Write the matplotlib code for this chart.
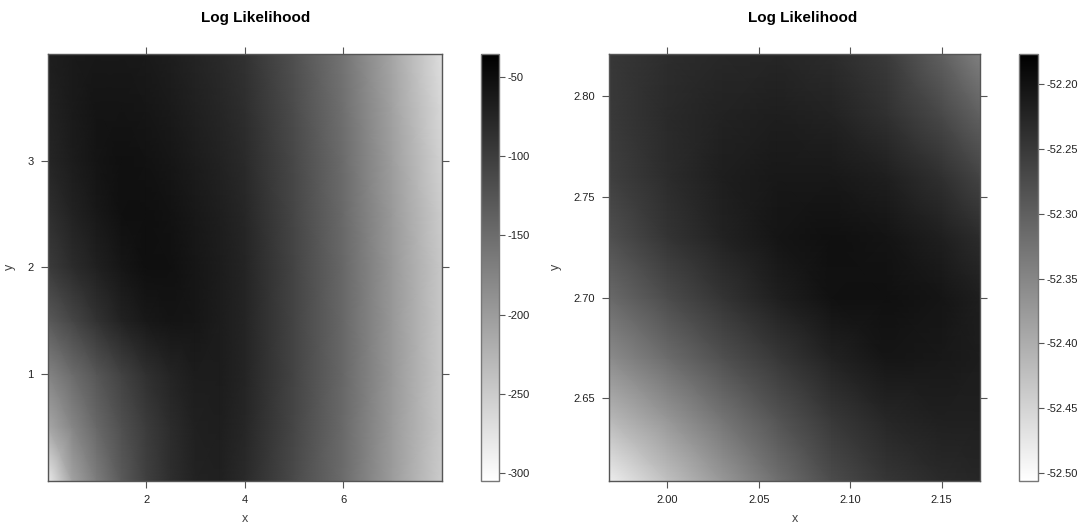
import numpy as np
import matplotlib
matplotlib.use("Agg")
import matplotlib.pyplot as plt

plt.rcParams['font.family'] = ['Liberation Sans', 'DejaVu Sans']
plt.rcParams['axes.unicode_minus'] = False

# left panel: log likelihood (rows = y, cols = x)
x_left = [0.0, 0.5, 1.0, 1.5, 2.0, 2.5, 3.0, 3.5, 4.0, 5.0, 6.0, 7.0, 8.0]
y_left = [0.0, 0.5, 1.0, 1.5, 2.0, 2.5, 3.0, 3.5, 4.0]
ll_left = [
    [-284.9, -206.7, -166.6, -130.6, -103.1, -84.1, -71.4, -69.3, -79.9, -113.7, -149.6, -200.4, -251.1],
    [-213.1, -177.1, -145.4, -120.1, -98.9, -82.0, -69.3, -67.2, -75.7, -109.5, -147.5, -198.3, -246.9],
    [-175.0, -149.6, -126.4, -105.3, -86.2, -73.5, -65.1, -65.1, -73.5, -107.4, -145.4, -196.1, -246.9],
    [-130.6, -109.5, -88.3, -71.4, -60.9, -56.6, -58.8, -65.1, -73.5, -107.4, -145.4, -196.1, -246.9],
    [-98.9, -82.0, -69.3, -58.8, -52.2, -52.4, -58.8, -65.1, -73.5, -107.4, -145.4, -196.1, -246.9],
    [-86.2, -71.4, -60.9, -52.4, -52.2, -54.5, -60.9, -67.2, -75.7, -109.5, -147.5, -198.3, -251.1],
    [-75.7, -65.1, -56.6, -52.4, -54.5, -58.8, -65.1, -71.4, -79.9, -111.6, -149.6, -202.5, -257.4],
    [-71.4, -63.0, -56.6, -56.6, -58.8, -63.0, -69.3, -75.7, -84.1, -115.8, -153.9, -206.7, -263.8],
    [-67.2, -63.0, -60.9, -60.9, -63.0, -67.2, -73.5, -79.9, -88.3, -120.1, -158.1, -211.0, -270.1],
]
left_range = (-305.0, -35.5)
left_cticks = [-50, -100, -150, -200, -250, -300]

# right panel: zoom around the maximum
x_right = [1.968, 2.00, 2.03, 2.06, 2.09, 2.12, 2.15, 2.171]
y_right = [2.609, 2.64, 2.67, 2.70, 2.73, 2.76, 2.79, 2.821]
ll_right = [
    [-52.484, -52.425, -52.373, -52.321, -52.275, -52.247, -52.231, -52.226],
    [-52.414, -52.371, -52.327, -52.285, -52.249, -52.226, -52.218, -52.218],
    [-52.358, -52.316, -52.280, -52.249, -52.221, -52.205, -52.208, -52.213],
    [-52.314, -52.275, -52.244, -52.218, -52.200, -52.198, -52.205, -52.216],
    [-52.280, -52.244, -52.221, -52.205, -52.198, -52.203, -52.218, -52.234],
    [-52.260, -52.234, -52.216, -52.208, -52.208, -52.218, -52.239, -52.265],
    [-52.252, -52.231, -52.221, -52.216, -52.221, -52.239, -52.270, -52.301],
    [-52.249, -52.236, -52.229, -52.226, -52.234, -52.254, -52.301, -52.342],
]
right_range = (-52.506, -52.177)
right_cticks = [-52.20, -52.25, -52.30, -52.35, -52.40, -52.45, -52.50]

W, H = 1080, 529
fig = plt.figure(figsize=(W / 100, H / 100), dpi=100)

def box(x0, y0, x1, y1):
    return [x0 / W, 1 - y1 / H, (x1 - x0) / W, (y1 - y0) / H]

tick_col = '#222222'
spine_col = '#555555'


def panel(ax, cax, xs, ys, z, rng, xticks, yticks, xfmt, yfmt, cticks, cfmt):
    m = ax.pcolormesh(xs, ys, np.array(z), shading='gouraud', cmap='gray_r',
                      vmin=rng[0], vmax=rng[1])
    ax.set_xlim(xs[0], xs[-1])
    ax.set_ylim(ys[0], ys[-1])
    ax.set_xticks(xticks)
    ax.set_yticks(yticks)
    ax.set_xticklabels([xfmt % v for v in xticks])
    ax.set_yticklabels([yfmt % v for v in yticks])
    ax.tick_params(direction='out', length=5, width=0.8, colors=spine_col,
                   labelcolor=tick_col, labelsize=8, top=True, right=True, pad=5)
    for s in ax.spines.values():
        s.set_color(spine_col)
        s.set_linewidth(1)
    ax.set_xlabel('x', fontsize=9, color='#444444', labelpad=6)
    ax.set_ylabel('y', fontsize=9, color='#444444', labelpad=8)
    cb = fig.colorbar(m, cax=cax)
    cb.set_ticks(cticks)
    cb.set_ticklabels([cfmt % v for v in cticks])
    cb.outline.set_edgecolor('#777777')
    cb.outline.set_linewidth(1)
    cax.tick_params(direction='out', length=4, width=0.8, colors=spine_col,
                    labelcolor=tick_col, labelsize=8, pad=2)


ax1 = fig.add_axes(box(47.7, 54, 441.7, 480.7))
cax1 = fig.add_axes(box(480.7, 54, 499.3, 481))
panel(ax1, cax1, x_left, y_left, ll_left, left_range, [2, 4, 6], [1, 2, 3],
      '%g', '%g', left_cticks, '%g')

ax2 = fig.add_axes(box(609, 54, 980, 480.7))
cax2 = fig.add_axes(box(1019.3, 54, 1038.3, 481))
panel(ax2, cax2, x_right, y_right, ll_right, right_range,
      [2.00, 2.05, 2.10, 2.15], [2.65, 2.70, 2.75, 2.80],
      '%.2f', '%.2f', right_cticks, '%.2f')

fig.text(256 / W, 1 - 18 / H, 'Log Likelihood', ha='center', va='center',
         fontsize=11, fontweight='bold')
fig.text(803 / W, 1 - 18 / H, 'Log Likelihood', ha='center', va='center',
         fontsize=11, fontweight='bold')

fig.savefig('out.png', dpi=100)
